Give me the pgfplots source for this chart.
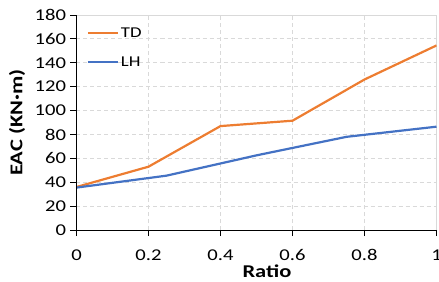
\documentclass[border=0pt]{standalone}
\usepackage{fontspec}
\setmainfont[FakeStretch=1.25]{Carlito}
\usepackage{pgfplots}
\pgfplotsset{compat=1.18}
\definecolor{tdorange}{RGB}{237,125,49}
\definecolor{lhblue}{RGB}{68,114,196}
\definecolor{gridgray}{RGB}{217,217,217}
\begin{document}
\begin{tikzpicture}
\useasboundingbox (-76.5bp,-52bp) rectangle (362.5bp,230bp);
\begin{axis}[
  scale only axis,
  width=360bp, height=215bp,
  xmin=0, xmax=1, ymin=0, ymax=180,
  xtick={0,0.2,0.4,0.6,0.8,1},
  xticklabels={0,0.2,0.4,0.6,0.8,1},
  ytick={0,20,...,180},
  /pgf/number format/assume math mode=true,
  tick label style={font=\fontsize{16.5bp}{18bp}\selectfont, black},
  xticklabel style={yshift=-10bp},
  yticklabel style={xshift=-1bp},
  xtick pos=bottom, ytick pos=left,
  tick align=outside,
  major tick length=6bp,
  tick style={black, line width=0.8bp},
  axis line style={draw=gridgray, line width=0.8bp},
  grid=major,
  major grid style={gridgray, dash pattern=on 4bp off 3bp, line width=0.8bp},
  xlabel={\textbf{Ratio}},
  ylabel={\textbf{EAC (KN·m)}},
  every axis x label/.style={at={(axis description cs:0.529,-0.222)}, anchor=base, inner sep=0pt,
    font=\fontsize{18bp}{20bp}\selectfont},
  every axis y label/.style={at={(axis description cs:-0.165,0.5)}, rotate=90, anchor=center,
    font=\fontsize{18bp}{20bp}\selectfont},
  legend style={draw=none, fill=none, at={(rel axis cs:0.02,0.96)}, anchor=north west,
    font=\fontsize{15bp}{17bp}\selectfont, row sep=14bp},
  legend cell align=left,
  legend image code/.code={\draw[#1, line width=2bp] (0bp,0bp) -- (30bp,0bp);},
  after end axis/.code={
    \draw[black, line width=0.8bp] (rel axis cs:0,1) -- (rel axis cs:0,0) -- (rel axis cs:1,0);
  },
]
\addplot[tdorange, line width=2.2bp] coordinates {
  (0,36) (0.2,53) (0.4,87) (0.6,91.5) (0.8,126) (1,154.5)
};
\addlegendentry{TD}
\addplot[lhblue, line width=2.2bp] coordinates {
  (0,35.5) (0.25,45.5) (0.5,62.5) (0.75,78) (1,86.5)
};
\addlegendentry{LH}
\end{axis}
\end{tikzpicture}
\end{document}
